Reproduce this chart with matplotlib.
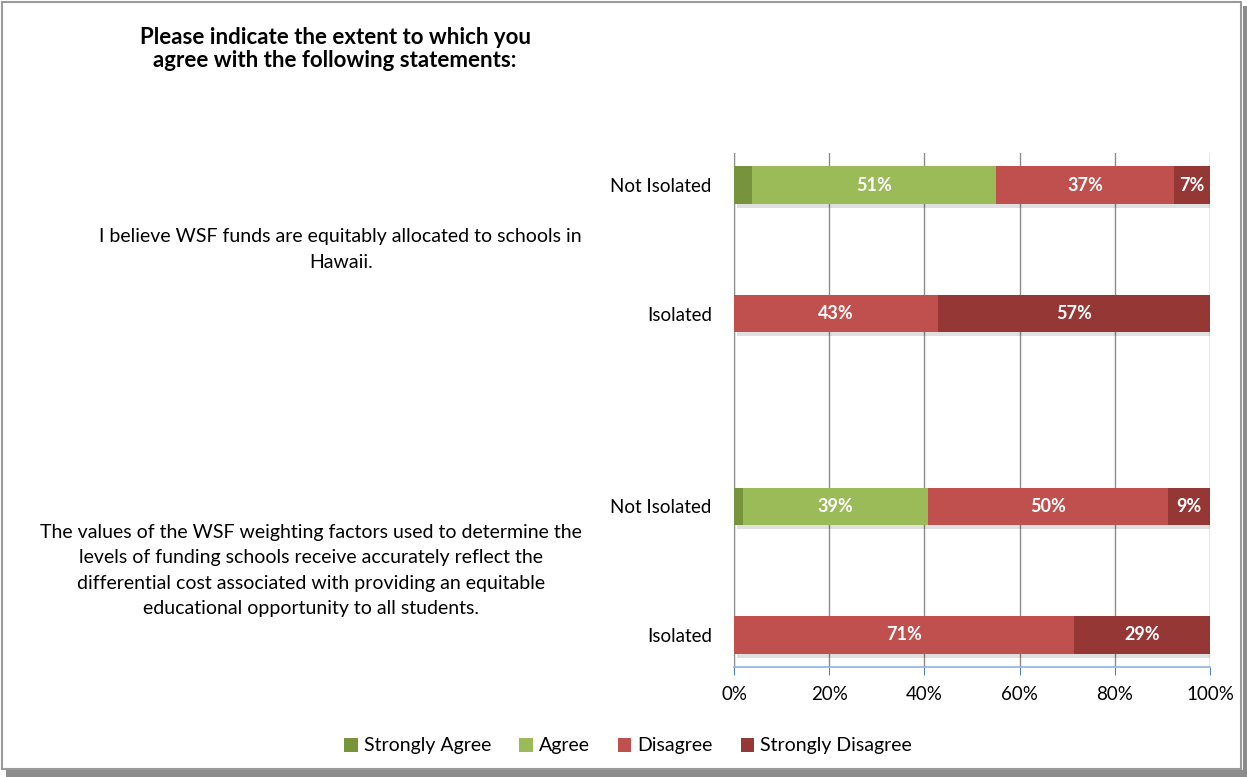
import matplotlib
matplotlib.use("Agg")
import matplotlib.pyplot as plt
from matplotlib.patches import Rectangle, Patch
import matplotlib.patheffects as pe
import numpy as np

plt.rcParams['font.family'] = ['Lato', 'DejaVu Sans']

row_labels = ["Not Isolated", "Isolated", "Not Isolated", "Isolated"]
row_pos = [0, 1, 2.5, 3.5]
series = ["Strongly Agree", "Agree", "Disagree", "Strongly Disagree"]
strongly_agree = [3.7, 0, 1.9, 0]
agree = [51.4, 0, 38.8, 0]
disagree = [37.4, 42.9, 50.4, 71.4]
strongly_disagree = [7.4, 57.1, 8.9, 28.6]
colors = ["#77933C", "#9BBB59", "#C0504D", "#953735"]
statements = [
    "I believe WSF funds are equitably allocated to schools in\nHawaii.",
    "The values of the WSF weighting factors used to determine the\nlevels of funding schools receive accurately reflect the\ndifferential cost associated with providing an equitable\neducational opportunity to all students.",
]
statement_rows = [(0, 1), (2.5, 3.5)]
xticks = [0, 20, 40, 60, 80, 100]
title = "Please indicate the extent to which you\nagree with the following statements:"

W, H = 1247, 777
fig = plt.figure(figsize=(W / 100, H / 100), dpi=100)
fig.patch.set_facecolor("white")

# border with shadow
fig.patches.append(Rectangle((1243 / W, 0), 4 / W, 1 - 6 / H, transform=fig.transFigure,
                             facecolor="#8c8c8c", edgecolor="none", zorder=0))
fig.patches.append(Rectangle((6 / W, 0), 1 - 6 / W, 7 / H, transform=fig.transFigure,
                             facecolor="#8c8c8c", edgecolor="none", zorder=0))
fig.patches.append(Rectangle((1.5 / W, 8 / H), 1239 / W, 767 / H, transform=fig.transFigure,
                             facecolor="none", edgecolor="#9a9a9a", linewidth=1.5, zorder=1))

ax = fig.add_axes([734 / W, 1 - 667 / H, 476 / W, 514 / H])
data = [strongly_agree, agree, disagree, strongly_disagree]
left = np.zeros(len(row_pos))
for vals, name, c in zip(data, series, colors):
    vals = np.array(vals)
    bars = ax.barh(row_pos, vals, left=left, height=0.29, color=c, zorder=3,
                   path_effects=[pe.SimplePatchShadow(offset=(2, -3), shadow_rgbFace="#000000", alpha=0.12),
                                 pe.Normal()])
    for b, v, l in zip(bars, vals, left):
        if v >= 5:
            ax.text(l + v / 2, b.get_y() + b.get_height() / 2, f"{v:.0f}%", ha="center", va="center",
                    color="white", fontsize=13, fontweight="bold", zorder=4)
    left += vals

ax.set_xlim(0, 100)
ax.set_ylim(3.75, -0.25)
ax.set_xticks(xticks)
ax.set_xticklabels([f"{t}%" for t in xticks], fontsize=13.5)
ax.set_yticks(row_pos)
ax.set_yticklabels(row_labels, fontsize=13.5)
ax.tick_params(axis="y", length=0, pad=16)
ax.tick_params(axis="x", length=6, color="#4F81BD", direction="out", pad=8)
ax.grid(axis="x", color="#8c8c8c", linewidth=1, zorder=0)
for s in ["top", "right"]:
    ax.spines[s].set_visible(False)
ax.spines["left"].set_color("#8c8c8c")
ax.spines["bottom"].set_color("#8fb4dc")
ax.spines["bottom"].set_linewidth(1.2)

# statement labels
for txt, (r0, r1) in zip(statements, statement_rows):
    ymid = (r0 + r1) / 2
    ax.text((582 - 734) / 476, ymid, txt, transform=ax.get_yaxis_transform(), ha="right", va="center",
            fontsize=14, linespacing=1.6, multialignment="center")

fig.text(335 / W, 1 - 49 / H, title, ha="center", va="center", fontsize=16, fontweight="bold",
         linespacing=1.15)

handles = [Patch(facecolor=c, edgecolor="none") for c in colors]
fig.legend(handles, series, loc="center", bbox_to_anchor=(628 / W, 1 - 746 / H), ncol=4,
           frameon=False, fontsize=14, handlelength=0.7, handleheight=0.7, handletextpad=0.3,
           columnspacing=1.45)

fig.savefig("out.png", dpi=100, facecolor="white")
